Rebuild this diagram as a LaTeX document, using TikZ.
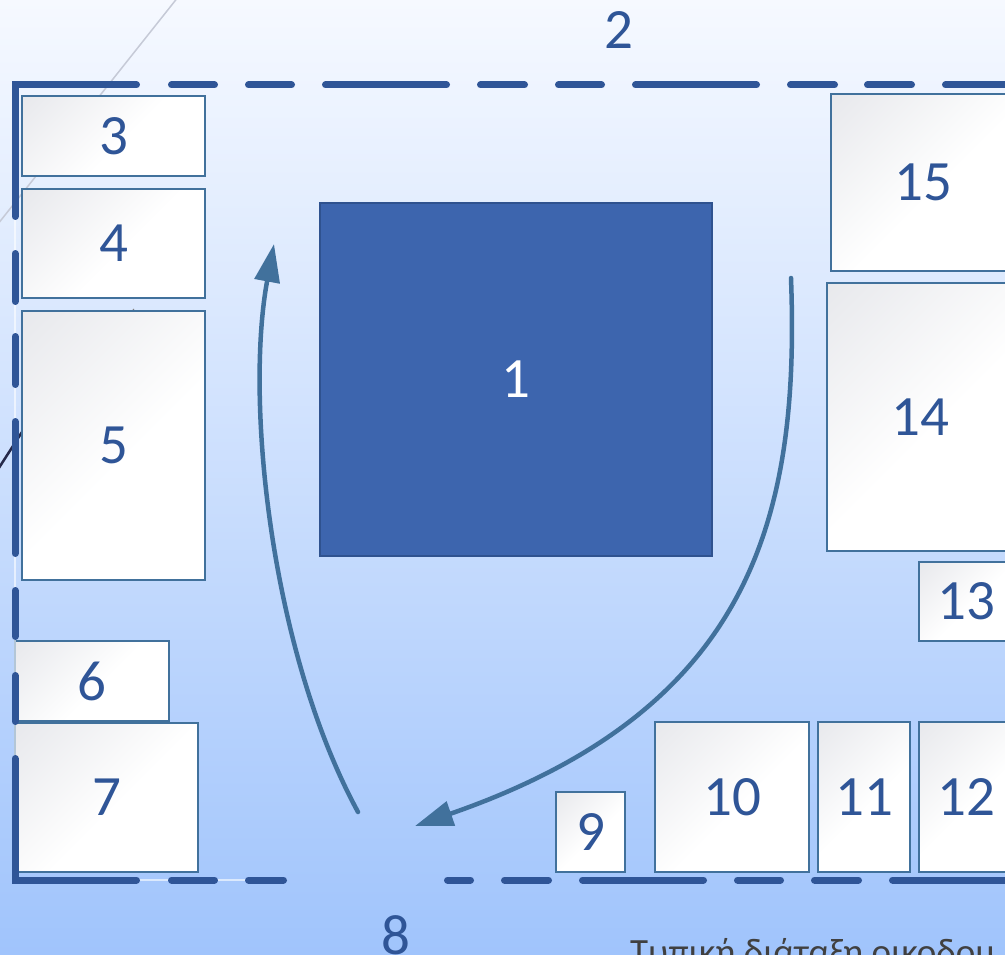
\documentclass[tikz,border=0pt]{standalone}
\usepackage{fontspec}
\setmainfont{Carlito}
\usetikzlibrary{arrows.meta}
\definecolor{bgtop}{RGB}{246,249,255}
\definecolor{bgbot}{RGB}{160,196,252}
\definecolor{dashc}{RGB}{47,85,151}
\definecolor{numc}{RGB}{47,85,151}
\definecolor{boxc}{RGB}{65,113,156}
\definecolor{boxg}{RGB}{230,231,235}
\definecolor{bluefill}{RGB}{61,101,174}
\definecolor{blueedge}{RGB}{47,82,143}
\definecolor{arrc}{RGB}{65,113,156}
\definecolor{diagc}{RGB}{198,202,215}
\definecolor{darkc}{RGB}{37,41,74}
\definecolor{capc}{RGB}{64,64,64}
\pgfdeclareverticalshading{boxsh}{100bp}{color(0bp)=(white); color(46bp)=(white); color(88bp)=(boxg); color(100bp)=(boxg)}
\begin{document}
\begin{tikzpicture}[x=1pt,y=-1pt,
  numfont/.style={font=\fontsize{57}{68}\selectfont},
  bx/.style={draw=boxc, line width=1.5pt, shade, shading=boxsh, shading angle=45,
     anchor=north west, inner sep=0pt, outer sep=0pt, text=numc, numfont},
  lab/.style={text=numc, numfont, inner sep=0pt},
  wall/.style={draw=dashc, line width=7pt, line cap=round, line join=miter},
  faint/.style={draw=white, opacity=0.6, line width=1.2pt},
  arr/.style={draw=arrc, line width=4.5pt, line cap=round, -{Triangle[length=38pt,width=25pt]}}
]
\useasboundingbox (0,0) rectangle (1005,955);
\clip (0,0) rectangle (1005,955);
% background
\shade[top color=bgtop, bottom color=bgbot] (0,0) rectangle (1005,955);
% faint lines behind
\draw[diagc, line width=1.5pt] (190,-18) -- (-10,234);
\draw[darkc, line width=2.5pt] (-5,474) -- (22,432);
\draw[gray, line width=1pt] (131,312) -- (134,309);
% boxes
\node[bx, minimum width=183, minimum height=80] (b3) at (22,96) {3};
\node[bx, minimum width=183, minimum height=109] (b4) at (22,189) {4};
\node[bx, minimum width=183, minimum height=269] (b5) at (22,311) {5};
\node[bx, minimum width=154, minimum height=80] (b6) at (15,641) {6};
\node[bx, minimum width=183, minimum height=149] (b7) at (15,723) {7};
\node[bx, minimum width=69, minimum height=80] (b9) at (556,792) {9};
\node[bx, minimum width=154, minimum height=150] (b10) at (655,722) {10};
\node[bx, minimum width=92, minimum height=150] (b11) at (818,722) {11};
\node[bx, minimum width=94, minimum height=150] (b12) at (919,722) {12};
\node[bx, minimum width=94, minimum height=79] (b13) at (919,562) {13};
\node[bx, minimum width=186, minimum height=268] (b14) at (827,283) {14};
\node[bx, minimum width=184, minimum height=177] (b15) at (831,94) {15};
\node[draw=blueedge, fill=bluefill, line width=1.5pt, minimum width=392, minimum height=353,
      anchor=north west, inner sep=0pt, outer sep=0pt, text=white, numfont] (b1) at (320,203) {1};
% labels
\node[lab] (l2) at (619,30) {2};
\node[lab] (l8) at (396,935) {8};
\node[anchor=base west, inner sep=0pt, text=capc, font=\fontsize{37}{44}\selectfont] (cap) at (630,964) {Τυπική διάταξη οικοδομ};
% faint under-line of the wall
\draw[faint] (15,85) -- (15,880) -- (287,880);
% dashed wall
\draw[wall] (136.5,85) -- (15,85) -- (15,216.5);
\draw[wall] (15,758.5) -- (15,880) -- (136.5,880);
\foreach \a/\b in {168/218,245/295,322/450,477/528,555/605,632/760,787/838,864/915,942/1030}
  \draw[wall] (\a+3.5,85) -- (\b-3.5,85);
\foreach \a/\b in {250/305,333/388,418/557,587/640,672/725}
  \draw[wall] (15,\a+3.5) -- (15,\b-3.5);
\foreach \a/\b in {168/218,245/287,444/474,501/552,579/707,734/784,811/862,889/1030}
  \draw[wall] (\a+3.5,880) -- (\b-3.5,880);
% circulation arrows
\coordinate (la0) at (358,812);
\coordinate (la1) at (274,244);
\coordinate (ra0) at (791,278);
\coordinate (ra1) at (415,826);
\draw[arr] (la0) .. controls (270,650) and (245,400) .. (la1);
\draw[arr] (ra0) .. controls (800,520) and (750,710) .. (ra1);
\end{tikzpicture}
\end{document}
